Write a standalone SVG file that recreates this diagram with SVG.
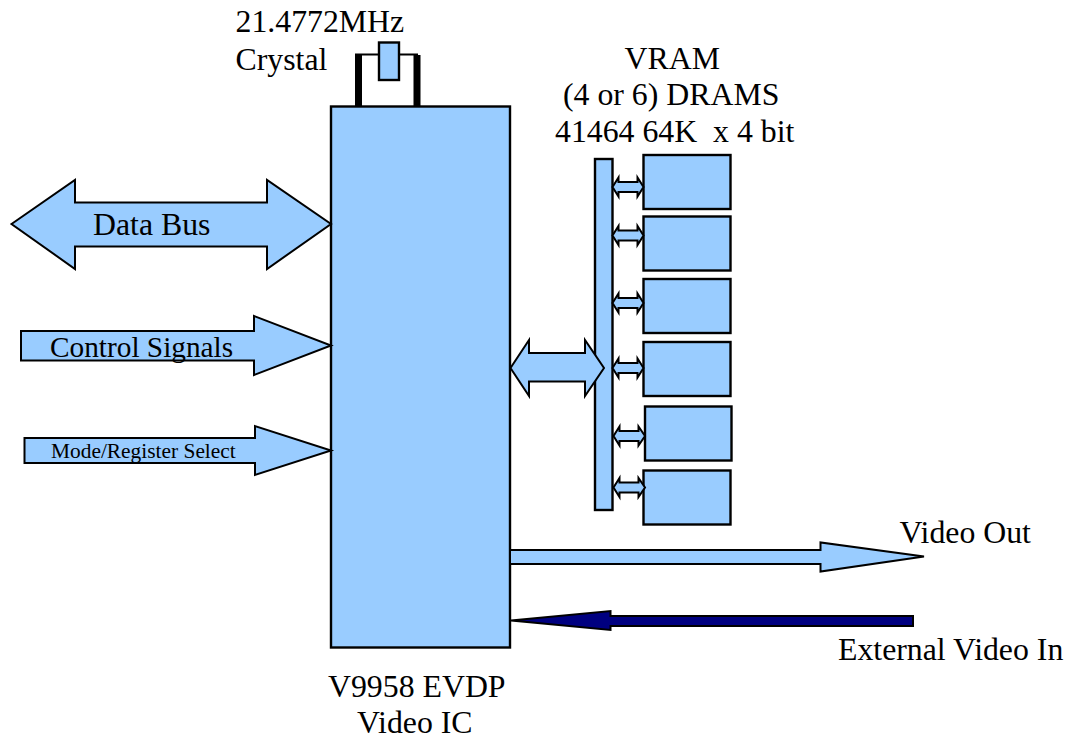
<svg xmlns="http://www.w3.org/2000/svg" width="1076" height="738" viewBox="0 0 1076 738">
<style>
.s{fill:#99ccff;stroke:#000;stroke-width:2.4;stroke-linejoin:miter}
.a{fill:#99ccff;stroke:#000;stroke-width:2;stroke-linejoin:miter}
.w{fill:none;stroke:#000}
text{font-family:"Liberation Serif","Times New Roman",serif;fill:#000;font-size:31.8px}
</style>
<rect width="1076" height="738" fill="#fff"/>
<g id="crystal"><rect class="s" x="379" y="42.500" width="20" height="37.500"/></g>
<g id="v9958"><rect class="s" x="331" y="106.500" width="179" height="541"/></g>
<g id="vram-bar"><rect class="s" x="595" y="159" width="17.500" height="351"/></g>
<g id="dram1"><rect class="s" x="643.500" y="155" width="87" height="54"/></g>
<g id="dram2"><rect class="s" x="643.500" y="216.500" width="87" height="54"/></g>
<g id="dram3"><rect class="s" x="643.500" y="279" width="87" height="54"/></g>
<g id="dram4"><rect class="s" x="643.500" y="342" width="87" height="54"/></g>
<g id="dram5"><rect class="s" x="645" y="406.500" width="86.500" height="54"/></g>
<g id="dram6"><rect class="s" x="643.500" y="470.500" width="87" height="54"/></g>
<g id="connectors">
<path class="w" stroke-width="2" d="M355 54.500H379M399 54.500H418"/>
<path class="w" stroke-width="7" d="M358.500 55V106M417 55V106"/>
<path id="data-bus" class="a" d="M11.500 224L75 180V202.500H267V180L331 224L267 269V246.500H75V269Z"/>
<path id="control-signals" class="a" d="M21 331H254V316L331 345.500L254 375V360.500H21Z"/>
<path id="mode-select" class="a" d="M24.500 438H255V426L331 450.500L255 475V463H24.500Z"/>
<path id="vram-bus" class="a" d="M510.500 368L529 340V353H585V340L604 368L585 396V381.500H529V396Z"/>
<path id="video-out" class="a" d="M510 550H820.500V542.500L924 556.500L820.500 571.500V564H510Z"/>
<path id="video-in" fill="#000080" stroke="#000" stroke-width="2" d="M511 620.500L610.500 611V616H913V626H610.500V630Z"/>
<path class="a" d="M612.500 187L618.500 177.500V182H637.500V177.500L643.500 187L637.500 196.500V192H618.500V196.500Z"/>
<path class="a" d="M612.500 235.500L618.500 226V230.500H637.500V226L643.500 235.500L637.500 245V240.500H618.500V245Z"/>
<path class="a" d="M612.500 303L618.500 293.500V298H637.500V293.500L643.500 303L637.500 312.500V308H618.500V312.500Z"/>
<path class="a" d="M612.500 368L618.500 358.500V363H637.500V358.500L643.500 368L637.500 377.500V373H618.500V377.500Z"/>
<path class="a" d="M613.500 436L619.500 426.500V431H638.500V426.500L645 436L638.500 445.500V441H619.500V445.500Z"/>
<path class="a" d="M613.500 487.500L619.500 478V482.500H638.500V478L645 487.500L638.500 497V492.500H619.500V497Z"/>
</g>
<g id="labels">
<text x="235.500" y="31.500">21.4772MHz</text>
<text x="235.500" y="69.500">Crystal</text>
<text x="624.500" y="68.500">VRAM</text>
<text x="563" y="105">(4 or 6) DRAMS</text>
<text x="555" y="142" xml:space="preserve">41464 64K  x 4 bit</text>
<text x="93" y="235">Data Bus</text>
<text x="50" y="357" style="font-size:29.300px">Control Signals</text>
<text x="51" y="458" style="font-size:21.400px">Mode/Register Select</text>
<text x="899.500" y="543">Video Out</text>
<text x="838" y="660">External Video In</text>
<text x="328" y="697">V9958 EVDP</text>
<text x="357" y="733">Video IC</text>
</g>
</svg>
